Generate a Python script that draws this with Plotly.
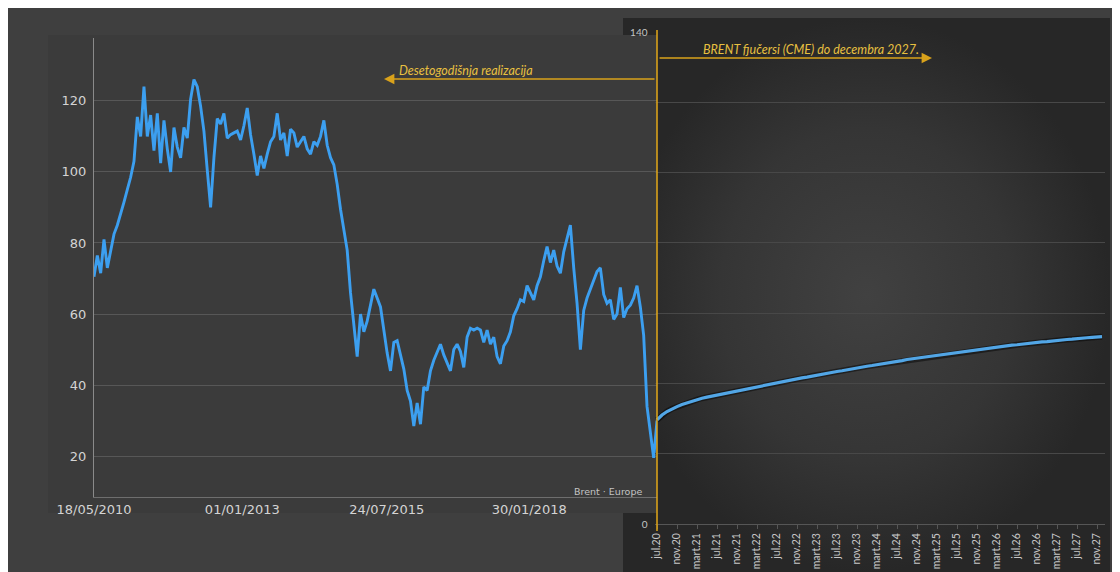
import plotly.graph_objects as go
import pandas as pd

# Brent - Europe, istorijska cena (USD/bbl), ravnomerno od maja 2010 do maja 2020
brent_hist = [
    70.5, 76.5, 71.5, 81.0, 73.0, 77.5, 82.5, 85.0, 88.0, 91.5,
    95.0, 98.5, 103.0, 115.5, 110.0, 124.0, 110.0, 116.0, 106.0, 116.5,
    102.5, 114.5, 106.5, 100.0, 112.5, 107.0, 104.0, 112.5, 109.5, 120.5,
    126.0, 124.0, 118.5, 111.5, 100.5, 90.0, 104.0, 115.0, 113.5, 116.5,
    109.5, 110.5, 111.0,
    111.5, 109.0, 113.0, 118.0, 110.5, 105.0, 99.0, 104.5, 101.0, 105.0,
    108.5, 110.0, 116.5, 109.0, 111.0, 104.5, 112.0, 111.0, 107.0, 108.5,
    110.0, 106.5, 105.0, 108.5, 107.5, 110.0, 114.5, 107.5, 104.0, 102.0,
    96.5, 89.5, 84.0, 78.0, 66.0, 57.5, 48.0, 60.0, 55.0, 58.0,
    62.5, 67.0,
    64.5, 62.0, 55.5, 49.0, 44.0, 52.0, 52.5, 48.0, 44.5, 38.5,
    35.5, 28.5, 35.0, 29.0, 39.5, 38.5, 44.0, 47.0, 49.5, 51.5,
    48.5, 46.0, 44.0, 50.0, 51.5, 49.5, 45.0, 53.5, 56.0, 55.5,
    56.0, 55.5, 52.0, 55.5, 51.5, 53.5, 48.0, 46.0, 51.0, 52.5,
    55.0, 59.5,
    61.5, 64.0, 63.5, 68.0, 66.0, 64.0, 68.0, 70.5, 75.0, 79.0,
    74.5, 78.0, 73.5, 71.5, 77.5, 81.5, 85.0, 73.0, 63.0, 50.0,
    61.0, 64.5, 67.0, 69.0, 72.0, 73.0, 65.5, 63.0, 64.0, 58.5,
    60.0, 67.5, 59.0, 61.5, 62.5, 64.5, 68.0, 62.0, 54.0, 34.0,
    26.0, 19.5, 30.0,
]
hist_start = "2010-05-18"
hist_end = "2020-05-05"
hist_tickvals = ["2010-05-18", "2013-01-01", "2015-07-24", "2018-01-30"]
hist_ticktext = ["18/05/2010", "01/01/2013", "24/07/2015", "30/01/2018"]
hist_yticks = [20, 40, 60, 80, 100, 120]

# BRENT fjucersi (CME), mesecno od jula 2020. do decembra 2027.
futures = [
    29.6, 31.0, 32.0, 32.8, 33.4, 34.0, 34.5, 35.0, 35.4, 35.8,
    36.1, 36.4, 36.7, 37.0, 37.3, 37.6, 37.9, 38.2, 38.5, 38.8,
    39.0, 39.3, 39.6, 39.9, 40.2, 40.4, 40.7, 41.0, 41.3, 41.6,
    41.8, 42.1, 42.4, 42.6, 42.9, 43.1, 43.4, 43.6, 43.9, 44.1,
    44.4, 44.6, 44.9, 45.1, 45.3, 45.6, 45.8, 46.0, 46.3, 46.5,
    46.8, 47.0, 47.2, 47.4, 47.6, 47.8, 48.0, 48.3, 48.5, 48.7,
    48.9, 49.1, 49.3, 49.5, 49.7, 49.8, 50.0, 50.2, 50.4, 50.5,
    50.7, 50.9, 51.0, 51.2, 51.3, 51.5, 51.6, 51.8, 51.9, 52.1,
    52.2, 52.4, 52.5, 52.6, 52.8, 52.9, 53.0, 53.1, 53.2, 53.3,
]
mjeseci = ["jan", "feb", "mart", "apr", "maj", "jun",
           "jul", "avg", "sep", "okt", "nov", "dec"]
fut_yticks = [0, 20, 40, 60, 80, 100, 120, 140]

hist_dates = pd.date_range(hist_start, hist_end, periods=len(brent_hist))
fut_labels = []
for i in range(len(futures)):
    m = 6 + i
    fut_labels.append("{}.{}".format(mjeseci[m % 12], 20 + m // 12))

W, H = 1104, 564
OFF = 8  # body margin of the page


def dx(px):
    return (px - OFF) / W


def dy(py):
    return 1 - (py - OFF) / H


GOLD = '#d9a21b'
TXT_GOLD = '#e8c040'
BLUE = '#3c9ff0'

fig = go.Figure()

# background panels (page pixel coords on a hidden axis)
fig.add_trace(go.Scatter(x=[623, 1110, 1110, 623, 623],
                         y=[18, 18, 572, 572, 18],
                         fill='toself', mode='lines', line=dict(width=0),
                         fillcolor='#303030',
                         fillgradient=dict(type='radial',
                                           colorscale=[[0, '#414141'], [0.6, '#353535'], [1, '#272727']]),
                         hoverinfo='skip', showlegend=False,
                         xaxis='x', yaxis='y'))
fig.add_trace(go.Scatter(x=[48, 657, 657, 48, 48],
                         y=[35, 35, 513, 513, 35],
                         fill='toself', mode='lines', line=dict(width=0),
                         fillcolor='#3b3b3b',
                         hoverinfo='skip', showlegend=False,
                         xaxis='x', yaxis='y'))

# left: ten-year history
fig.add_trace(go.Scatter(x=hist_dates, y=brent_hist, mode='lines',
                         line=dict(color=BLUE, width=2.9),
                         name='Brent', showlegend=False,
                         xaxis='x2', yaxis='y2'))

# right: futures curve (with a soft shadow)
fig.add_trace(go.Scatter(x=fut_labels, y=futures, mode='lines',
                         line=dict(color='rgba(0,0,0,0.45)', width=6),
                         hoverinfo='skip', showlegend=False,
                         xaxis='x3', yaxis='y3'))
fig.add_trace(go.Scatter(x=fut_labels, y=futures, mode='lines',
                         line=dict(color='#52a6e6', width=3.2),
                         name='BRENT CME', showlegend=False,
                         xaxis='x3', yaxis='y3'))

fig.update_layout(
    template='none',
    width=W, height=H,
    margin=dict(l=0, r=0, t=0, b=0, pad=0),
    paper_bgcolor='#3f3f3f',
    plot_bgcolor='rgba(0,0,0,0)',
    showlegend=False,
    xaxis=dict(domain=[0, 1], range=[OFF, OFF + W], visible=False,
               fixedrange=True, automargin=False),
    yaxis=dict(domain=[0, 1], range=[OFF + H, OFF], visible=False,
               fixedrange=True, automargin=False),
    xaxis2=dict(domain=[dx(94), dx(657)], anchor='y2', type='date',
                range=[hist_start, hist_end], automargin=False,
                tickvals=hist_tickvals, ticktext=hist_ticktext,
                showgrid=False, zeroline=False,
                showline=True, linecolor='#6e6e6e', linewidth=1,
                ticks='', ticklabelstandoff=0,
                tickfont=dict(family='DejaVu Sans', size=13, color='#d4d4d4')),
    yaxis2=dict(domain=[dy(497), dy(38)], anchor='x2', automargin=False,
                range=[8.5, 137.7], tickvals=hist_yticks,
                showgrid=True, gridcolor='#575757', gridwidth=1,
                zeroline=False, showline=True, linecolor='#8a8a8a',
                ticks='', ticklabelstandoff=4,
                tickfont=dict(family='DejaVu Sans', size=13, color='#d4d4d4')),
    xaxis3=dict(domain=[dx(654.5), dx(1104.5)], anchor='y3', type='category',
                range=[-0.5, len(futures) - 0.5], automargin=False,
                tickvals=fut_labels[::4],
                tickangle=-90, showgrid=False, zeroline=False,
                showline=True, linecolor='#565656',
                ticks='outside', ticklen=4, tickcolor='#565656',
                tickfont=dict(family='Lato', size=10.5, color='#c8c8c8')),
    yaxis3=dict(domain=[dy(524), dy(32)], anchor='x3', automargin=False,
                range=[0, 140], tickvals=fut_yticks,
                ticktext=['0', '', '', '', '', '', '', '140'],
                showgrid=True, gridcolor='#484848', zeroline=False,
                ticks='', ticklabelstandoff=6,
                tickfont=dict(family='Lato', size=10, color='#c4c4c4')),
)

# yellow divider at jul.20
fig.add_shape(type='line', xref='x', yref='y', x0=657, x1=657, y0=30, y1=531,
              line=dict(color='#e3a81a', width=1.5), layer='above')

fig.add_annotation(xref='x', yref='y', x=932, y=58, ax=658, ay=58,
                   axref='x', ayref='y', text='', showarrow=True,
                   arrowhead=2, arrowsize=1.3, arrowwidth=1.6, arrowcolor=GOLD)
fig.add_annotation(xref='x', yref='y', x=811, y=49,
                   text='<i>BRENT fjučersi (CME) do decembra 2027.</i>',
                   showarrow=False,
                   font=dict(family='Lato', size=12.5, color=TXT_GOLD))

fig.add_annotation(xref='x', yref='y', x=384, y=79, ax=656, ay=79,
                   axref='x', ayref='y', text='', showarrow=True,
                   arrowhead=2, arrowsize=1.3, arrowwidth=1.6, arrowcolor=GOLD)
fig.add_annotation(xref='x', yref='y', x=466, y=70,
                   text='<i>Desetogodišnja realizacija</i>',
                   showarrow=False,
                   font=dict(family='Lato', size=12.5, color=TXT_GOLD))

fig.add_annotation(xref='x', yref='y', x=608, y=491,
                   text='Brent · Europe', showarrow=False,
                   font=dict(family='DejaVu Sans', size=9.5, color='#c4c4c4'))

fig.write_html("out.html")
